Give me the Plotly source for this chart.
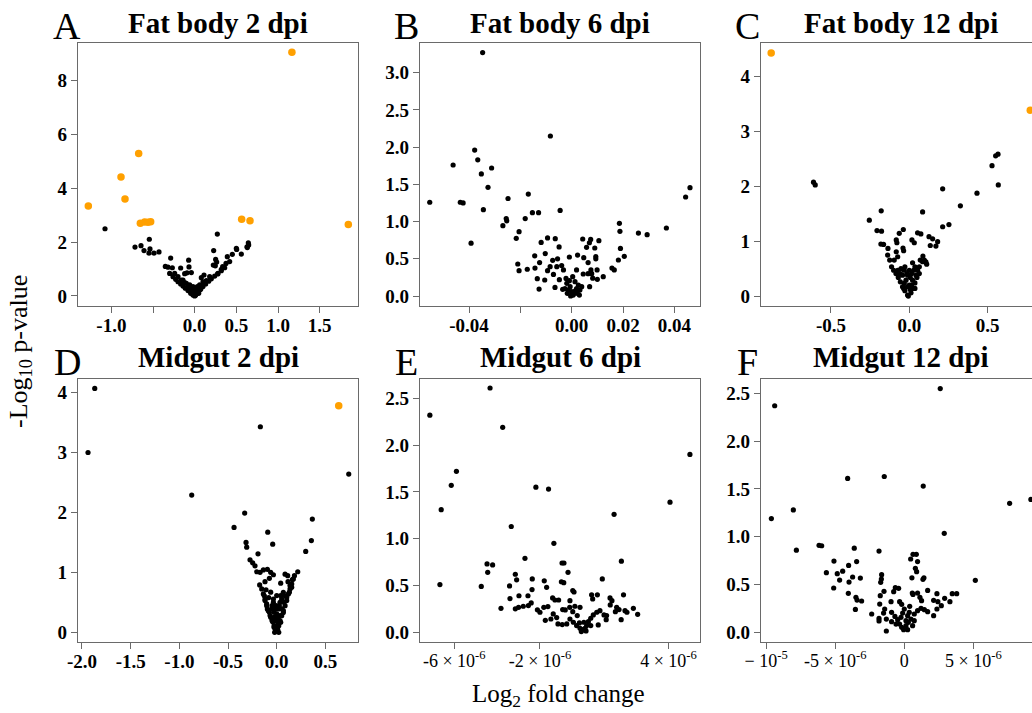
import plotly.graph_objects as go

W, H = 1032, 713
SERIF = "Liberation Serif, Times New Roman, serif"

# ---------------- data ----------------
# A: Fat body 2 dpi
A_black_x = [-1.076, -0.544, -0.716, -0.644, -0.608, -0.536, -0.548, -0.488, -0.428, -0.288,
             -0.352, -0.32, -0.268, -0.168, -0.072, -0.068, -0.092, -0.12, -0.04, -0.3,
             -0.26, -0.228, -0.2, -0.168, -0.14, -0.112, -0.08, -0.048, -0.02, 0.0,
             0.272, 0.228, 0.252, 0.264, 0.276, 0.224, 0.248, 0.336, 0.376, 0.392,
             0.452, 0.5, 0.504, 0.56, 0.632, 0.644, 0.648, 0.628, 0.42, 0.36,
             0.32, 0.112, 0.08, 0.04, 0.072, 0.1, 0.132, 0.168, 0.2, 0.24,
             0.28, 0.32, -0.02, 0.02, -0.04, 0.02, -0.008, 0.04, -0.06, 0.06,
             -0.1, -0.16, 0.1, 0.14, -0.2, -0.24, 0.18, 0.01, -0.01, 0.03, -0.03,
             -0.06, -0.02, 0.032, 0.06, -0.08, -0.12, 0.008, -0.032, 0.048, 0.08, 0.12, -0.14]
A_black_y = [2.50, 2.11, 1.82, 1.87, 1.69, 1.75, 1.59, 1.59, 1.64, 1.41,
             1.10, 1.07, 1.05, 1.04, 1.33, 1.08, 0.86, 0.83, 0.87, 0.84,
             0.72, 0.62, 0.53, 0.45, 0.37, 0.29, 0.20, 0.10, 0.04, 0.0,
             2.30, 1.69, 1.36, 1.26, 0.82, 1.15, 1.12, 1.09, 1.21, 1.46,
             1.55, 1.77, 1.73, 1.56, 1.80, 1.98, 1.90, 1.83, 1.28, 1.05,
             0.99, 0.78, 0.68, 0.12, 0.25, 0.35, 0.45, 0.55, 0.64, 0.74,
             0.84, 0.94, 0.10, 0.074, 0.16, 0.22, 0.285, 0.285, 0.285, 0.41,
             0.47, 0.595, 0.53, 0.57, 0.72, 0.84, 0.72, 0.03, 0.05, 0.15, 0.2,
             0.41, 0.35, 0.35, 0.22, 0.35, 0.50, 0.124, 0.22, 0.10, 0.35, 0.47, 0.595]
A_orange_x = [1.167, -0.672, -0.884, -0.836, -1.276, -0.652, -0.6, -0.56, -0.528, 0.564, 0.664, 1.844]
A_orange_y = [9.06, 5.30, 4.42, 3.61, 3.35, 2.70, 2.75, 2.74, 2.76, 2.85, 2.80, 2.66]

# B: Fat body 6 dpi
B_black_x = [-0.0347, -0.0083, -0.0378, -0.0366, -0.0462, -0.0312, -0.0352, -0.0326, -0.0553, -0.0434,
             -0.0423, -0.0248, -0.0169, -0.0344, -0.0153, -0.0129, -0.0045, -0.0255, -0.0253, -0.0181,
             -0.0268, -0.0205, -0.0216, -0.0392, -0.0094, -0.0064, -0.0119, -0.0049, -0.0103, -0.0144,
             -0.0125, -0.021, -0.0205, -0.0173, -0.0143, -0.0134, -0.0127, -0.0105, -0.0094, -0.0084,
             -0.0074, -0.0071, -0.0058, -0.0055, -0.0039, -0.0065, -0.0048, -0.0032, -0.0022, -0.0009,
             0.0019, 0.0023, 0.0043, 0.0047, 0.0058, 0.0069, 0.0074, 0.0075, 0.0090, 0.0094,
             0.0094, 0.0106, 0.0064, 0.0045, 0.0064, 0.0078, 0.0082, 0.0099, 0.0100, 0.0123,
             0.0070, 0.0157, 0.0166, 0.0186, 0.0188, 0.0190, 0.0205, 0.0182, 0.0260, 0.0294,
             0.0369, 0.0444, 0.0461,
             -0.0019, -0.0006, 0.0, 0.0006, -0.0013, 0.0019, 0.0026, 0.0013, 0.0032, -0.0026,
             0.0004, -0.0009, 0.0009, 0.0022, -0.0004, 0.0039, -0.0035, -0.0017, 0.0014, 0.0030]
B_black_y = [3.27, 2.15, 1.96, 1.83, 1.76, 1.72, 1.64, 1.46, 1.26, 1.26,
             1.25, 1.31, 1.37, 1.16, 1.12, 1.12, 1.15, 1.04, 1.01, 1.04,
             0.945, 0.864, 0.775, 0.71, 0.78, 0.77, 0.72, 0.66, 0.57, 0.54,
             0.45, 0.43, 0.34, 0.36, 0.376, 0.233, 0.094, 0.215, 0.34, 0.394,
             0.48, 0.29, 0.394, 0.50, 0.41, 0.116, 0.22, 0.35, 0.237, 0.524,
             0.35, 0.55, 0.766, 0.515, 0.654, 0.716, 0.76, 0.35, 0.645, 0.53,
             0.50, 0.743, 0.45, 0.296, 0.30, 0.30, 0.24, 0.35, 0.224, 0.26,
             0.125, 0.376, 0.35, 0.976, 0.869, 0.64, 0.533, 0.484, 0.846, 0.824,
             0.914, 1.33, 1.455,
             0.17, 0.125, 0.058, 0.013, 0.08, 0.10, 0.148, 0.193, 0.08, 0.10,
             0.26, 0.206, 0.036, 0.036, 0.0, 0.125, 0.09, 0.036, 0.07, 0.013]

# C: Fat body 12 dpi
C_black_x = [-0.611, -0.600, 0.566, 0.551, 0.528, 0.568, 0.213, 0.432, 0.326, 0.085,
             -0.179, -0.255, 0.213, 0.253, -0.206, -0.177, -0.064, -0.038, 0.053, 0.074,
             0.126, 0.149, 0.181, 0.134, 0.17, 0.017, 0.032, -0.083, -0.079, -0.181,
             -0.164, -0.136, -0.040, -0.036, -0.083, -0.138, -0.125, -0.096, -0.074, 0.087,
             0.096, 0.111, 0.106, 0.070, -0.113, -0.1, -0.085, -0.070, -0.057, -0.043,
             -0.028, -0.011, -0.053, -0.028, 0.0, 0.021, 0.036, 0.053, 0.064, 0.049,
             0.036, 0.021, 0.011, -0.021, 0.0, -0.011, 0.015, -0.043, -0.032, 0.006,
             -0.006, 0.021, 0.043,
             -0.032, -0.015, 0.006, 0.028, -0.011, 0.015, -0.036, 0.036, -0.057, 0.064, 0.085, -0.074]
C_black_y = [2.07, 2.02, 2.58, 2.55, 2.37, 2.02, 1.95, 1.87, 1.64, 1.53,
             1.55, 1.38, 1.26, 1.30, 1.19, 1.18, 1.14, 1.21, 1.15, 1.13,
             1.08, 1.04, 0.99, 0.92, 0.91, 1.02, 0.97, 1.02, 0.97, 0.945,
             0.94, 0.867, 0.873, 0.824, 0.806, 0.745, 0.655, 0.655, 0.715, 0.727,
             0.655, 0.58, 0.624, 0.655, 0.533, 0.47, 0.41, 0.34, 0.26, 0.17,
             0.097, 0.018, 0.50, 0.533, 0.47, 0.606, 0.533, 0.47, 0.41, 0.34,
             0.24, 0.14, 0.06, 0.29, 0.2, 0.38, 0.41, 0.38, 0.23, 0.12,
             0.0, 0.29, 0.38,
             0.47, 0.41, 0.34, 0.47, 0.17, 0.2, 0.14, 0.14, 0.41, 0.533, 0.624, 0.47]
C_orange_x = [-0.881, 0.772]
C_orange_y = [4.42, 3.38]

# D: Midgut 2 dpi
D_black_x = [-1.869, -1.938, -0.168, 0.740, -0.873, -0.329, -0.438, 0.366, -0.092, 0.356,
             -0.315, -0.308, -0.041, 0.298, -0.192, -0.274, -0.247, -0.223, -0.205, -0.171,
             -0.137, -0.096, -0.062, -0.034, -0.175, -0.120, -0.075, -0.110, -0.127, -0.120,
             -0.103, -0.086, -0.068, -0.048, -0.027, -0.007, 0.086, 0.113, 0.182, 0.216,
             0.161, 0.041, 0.116, 0.154, 0.130, 0.103, 0.075, 0.055, 0.034, 0.017,
             0.007, 0.086, 0.051, -0.062, -0.034, -0.017, 0.0, 0.027, -0.051, -0.027,
             0.041, 0.0, -0.021, 0.021, 0.068, -0.082, 0.137,
             -0.154, -0.137, -0.12, -0.103, -0.096, -0.075, -0.062, -0.041, -0.027, -0.014,
             0.171, 0.154, 0.137, 0.12, 0.103, 0.086, 0.068, 0.051, 0.034, 0.021,
             0.01, -0.034, -0.007, 0.017, 0.041, 0.068, 0.0, -0.027, 0.017, -0.007,
             -0.048, 0.034]
D_black_y = [4.07, 3.00, 3.43, 2.64, 2.29, 1.99, 1.75, 1.89, 1.67, 1.53,
             1.50, 1.42, 1.47, 1.35, 1.31, 1.21, 1.16, 1.11, 1.01, 1.00,
             1.04, 1.05, 1.00, 0.96, 0.79, 0.845, 0.90, 0.71, 0.61, 0.53,
             0.445, 0.36, 0.28, 0.195, 0.11, 0.028, 0.97, 0.945, 0.945, 1.01,
             0.88, 0.82, 0.845, 0.75, 0.67, 0.58, 0.50, 0.39, 0.28, 0.167,
             0.056, 0.61, 0.556, 0.67, 0.556, 0.39, 0.306, 0.445, 0.39, 0.25,
             0.167, 0.11, 0.0, 0.0, 0.33, 0.58, 0.78,
             0.723, 0.64, 0.556, 0.473, 0.389, 0.334, 0.25, 0.178, 0.083, 0.045,
             0.89, 0.807, 0.723, 0.64, 0.529, 0.445, 0.362, 0.278, 0.195, 0.111,
             0.045, 0.50, 0.445, 0.389, 0.612, 0.668, 0.612, 0.334, 0.25, 0.195,
             0.445, 0.50]
D_orange_x = [0.637]
D_orange_y = [3.78]

# E: Midgut 6 dpi (x in units of 1e-6)
E_black_x_e6 = [-4.33, -7.14, -3.74, 5.0, -5.90, -6.14, -2.19, -1.60, -6.61, 4.07,
                1.46, -3.34, -1.35, -2.70, 1.80, -4.47, -4.21, -4.44, -6.67, -4.74,
                -3.42, -3.15, -3.09, -2.36, -1.80, -1.69, -0.97, -0.88, -0.69, -1.0,
                -0.89, 0.91, 1.90, -0.47, -0.41, -2.37, -3.40, -2.98, -2.56, -3.15,
                -3.0, -2.78, -2.54, -2.41, -3.82, -2.12, -2.0, -1.82, -1.63, -1.41,
                -1.30, -1.13, -1.38, -1.22, -1.75, -1.49, -0.94, -0.82, -0.60, -0.61,
                -0.47, -0.37, -0.26, -0.13, -1.16, -0.96, -0.75, -0.60, -0.44, -0.29,
                -0.13, 0.0, 0.10, 0.18, 0.26, 0.37, 0.49, 0.65, 0.80, 0.99,
                1.09, 0.72, 0.37, 0.41, 0.46, 0.68, 1.27, 1.36, 1.28, 1.58,
                1.52, 1.69, 1.79, 1.97, 2.06, 2.36, 2.56, 1.11, 0.05, -0.16,
                0.15, -0.07]
E_black_y = [2.61, 2.32, 2.19, 1.90, 1.72, 1.57, 1.55, 1.53, 1.31, 1.39,
             1.26, 1.13, 0.95, 0.79, 0.76, 0.73, 0.72, 0.64, 0.51, 0.49,
             0.495, 0.62, 0.56, 0.57, 0.55, 0.48, 0.74, 0.74, 0.64, 0.54,
             0.53, 0.57, 0.40, 0.445, 0.43, 0.456, 0.36, 0.39, 0.39, 0.25,
             0.267, 0.278, 0.285, 0.313, 0.256, 0.24, 0.214, 0.267, 0.274, 0.367,
             0.345, 0.345, 0.196, 0.157, 0.128, 0.142, 0.242, 0.239, 0.338, 0.267,
             0.22, 0.278, 0.178, 0.267, 0.089, 0.082, 0.089, 0.142, 0.107, 0.071,
             0.043, 0.028, 0.043, 0.071, 0.114, 0.15, 0.185, 0.214, 0.231, 0.185,
             0.135, 0.078, 0.071, 0.40, 0.356, 0.40, 0.367, 0.338, 0.292, 0.267,
             0.22, 0.242, 0.135, 0.231, 0.214, 0.256, 0.192, 0.178, 0.107, 0.10,
             0.014, 0.007]

# F: Midgut 12 dpi (x in units of 1e-6)
F_black_x_e6 = [2.60, -9.38, -4.10, -1.45, 1.37, -9.62, -8.03, 7.62, 9.16, 2.89,
                -7.81, -6.17, -5.98, -3.62, -1.83, 0.63, 0.87, 0.46, 0.96, 0.80,
                0.89, 0.55, 1.42, 1.35, 5.14, -5.09, -3.45, -4.03, -4.46, -5.64,
                -4.85, -4.68, -3.74, -3.18, -4.0, -1.64, -1.66, -1.71, -5.11, -4.05,
                -3.50, -3.42, -3.09, -3.54, -2.36, -1.83, -1.83, -1.30, -1.47, -0.77,
                -0.65, -0.41, -1.74, -1.78, -1.42, -1.50, -1.30, -0.96, -0.34, -0.19,
                -0.92, -0.68, -0.48, -0.34, -0.19, -0.05, 0.12, 0.29, 0.48, 0.72,
                0.96, 1.21, 1.45, 1.69, 0.58, 0.63, 0.96, 1.13, 1.25, 1.69,
                2.12, 2.36, 2.43, 2.68, 2.92, 3.30, 3.47, 3.79, 2.12, 2.36,
                -0.12, 0.24, 0.12, -0.24, 0.0, 0.36, 0.72, 0.60, 0.24, -0.60,
                -0.92, 0.39]
F_black_y = [2.55, 2.37, 1.61, 1.63, 1.53, 1.19, 1.28, 1.35, 1.39, 1.036,
             0.86, 0.91, 0.906, 0.88, 0.85, 0.816, 0.816, 0.767, 0.74, 0.67,
             0.635, 0.57, 0.57, 0.555, 0.544, 0.746, 0.74, 0.70, 0.64, 0.624,
             0.614, 0.547, 0.579, 0.568, 0.526, 0.603, 0.558, 0.523, 0.464, 0.408,
             0.366, 0.338, 0.328, 0.24, 0.192, 0.146, 0.119, 0.014, 0.429, 0.425,
             0.467, 0.46, 0.384, 0.296, 0.244, 0.202, 0.139, 0.321, 0.321, 0.293,
             0.209, 0.167, 0.132, 0.087, 0.052, 0.028, 0.07, 0.105, 0.139, 0.192,
             0.227, 0.251, 0.237, 0.216, 0.411, 0.397, 0.411, 0.366, 0.331, 0.439,
             0.335, 0.404, 0.321, 0.279, 0.356, 0.321, 0.404, 0.404, 0.174, 0.244,
             0.202, 0.174, 0.122, 0.157, 0.244, 0.209, 0.122, 0.07, 0.028, 0.087,
             0.112, 0.272]

titles = ["Fat body 2 dpi", "Fat body 6 dpi", "Fat body 12 dpi",
          "Midgut 2 dpi", "Midgut 6 dpi", "Midgut 12 dpi"]
letters = ["A", "B", "C", "D", "E", "F"]

# tick definitions
A_xt = [-1.0, -0.5, 0.0, 0.5, 1.0, 1.5]; A_xl = ["-1.0", "", "0.0", "0.5", "1.0", "1.5"]
A_yt = [0, 2, 4, 6, 8]; A_yl = ["0", "2", "4", "6", "8"]
B_xt = [-0.04, -0.02, 0.0, 0.02, 0.04]; B_xl = ["-0.04", "", "0.00", "0.02", "0.04"]
B_yt = [0, 0.5, 1.0, 1.5, 2.0, 2.5, 3.0]; B_yl = ["0.0", "0.5", "1.0", "1.5", "2.0", "2.5", "3.0"]
C_xt = [-0.5, 0.0, 0.5]; C_xl = ["-0.5", "0.0", "0.5"]
C_yt = [0, 1, 2, 3, 4]; C_yl = ["0", "1", "2", "3", "4"]
D_xt = [-2.0, -1.5, -1.0, -0.5, 0.0, 0.5]; D_xl = ["-2.0", "-1.5", "-1.0", "-0.5", "0.0", "0.5"]
D_yt = [0, 1, 2, 3, 4]; D_yl = ["0", "1", "2", "3", "4"]
E_xt = [-6e-6, -2e-6, 4e-6]
E_xl = ["-6 × 10<sup>-6</sup>", "-2 × 10<sup>-6</sup>", "4 × 10<sup>-6</sup>"]
E_yt = [0, 0.5, 1.0, 1.5, 2.0, 2.5]; E_yl = ["0.0", "0.5", "1.0", "1.5", "2.0", "2.5"]
F_xt = [-1e-5, -5e-6, 0.0, 5e-6]
F_xl = ["− 10<sup>-5</sup>", "-5 × 10<sup>-6</sup>", "0", "5 × 10<sup>-6</sup>"]
F_yt = [0, 0.5, 1.0, 1.5, 2.0, 2.5]; F_yl = ["0.0", "0.5", "1.0", "1.5", "2.0", "2.5"]

# ---------------- layout geometry (pixels) ----------------
col_px = [(78, 358), (420, 700), (761, 1032)]
title_cx = [218, 560, 901]
row_px = [(43, 306), (379, 642)]

xranges = [[-1.40, 1.96], [-0.0591, 0.0500], [-0.946, 0.783],
           [-2.041, 0.835], [-7.60e-6, 5.47e-6], [-10.37e-6, 9.24e-6]]
yranges = [[-0.372, 9.405], [-0.134, 3.399], [-0.18, 4.6],
           [-0.162, 4.227], [-0.104, 2.706], [-0.101, 2.65]]

panels = [
    (A_black_x, A_black_y, A_orange_x, A_orange_y, A_xt, A_xl, A_yt, A_yl),
    (B_black_x, B_black_y, [], [], B_xt, B_xl, B_yt, B_yl),
    (C_black_x, C_black_y, C_orange_x, C_orange_y, C_xt, C_xl, C_yt, C_yl),
    (D_black_x, D_black_y, D_orange_x, D_orange_y, D_xt, D_xl, D_yt, D_yl),
    ([v * 1e-6 for v in E_black_x_e6], E_black_y, [], [], E_xt, E_xl, E_yt, E_yl),
    ([v * 1e-6 for v in F_black_x_e6], F_black_y, [], [], F_xt, F_xl, F_yt, F_yl),
]

fig = go.Figure()
layout = dict(
    width=W, height=H, margin=dict(l=0, r=0, t=0, b=0, autoexpand=False),
    paper_bgcolor="white", plot_bgcolor="white", showlegend=False,
    font=dict(family=SERIF, color="black"),
)
annotations = []
LINE = "#6a6a6a"

for i, (bx, by, ox, oy, xt, xl, yt, yl) in enumerate(panels):
    r, c = divmod(i, 3)
    n = i + 1
    xa = "x" if n == 1 else f"x{n}"
    ya = "y" if n == 1 else f"y{n}"
    fig.add_trace(go.Scatter(x=bx, y=by, mode="markers", xaxis=xa, yaxis=ya,
                             marker=dict(color="black", size=5.2, line=dict(width=0))))
    if ox:
        fig.add_trace(go.Scatter(x=ox, y=oy, mode="markers", xaxis=xa, yaxis=ya,
                                 marker=dict(color="#FFA000", size=7.5, line=dict(width=0))))
    x0, x1 = col_px[c]
    y0, y1 = row_px[r]
    sci = i in (4, 5)
    layout["xaxis" if n == 1 else f"xaxis{n}"] = dict(
        domain=[x0 / W, x1 / W], range=xranges[i], anchor=ya, automargin=False,
        showline=True, linecolor=LINE, linewidth=1.3, mirror=True,
        ticks="outside", ticklen=6, tickwidth=1.2, tickcolor=LINE,
        tickvals=xt, ticktext=xl, showgrid=False, zeroline=False,
        ticklabelstandoff=-4,
        tickfont=dict(family=SERIF, size=18 if sci else 19, color="black",
                      weight="normal" if sci else "bold"),
    )
    layout["yaxis" if n == 1 else f"yaxis{n}"] = dict(
        domain=[1 - y1 / H, 1 - y0 / H], range=yranges[i], anchor=xa, automargin=False,
        showline=True, linecolor=LINE, linewidth=1.3, mirror=(c != 2),
        ticks="outside", ticklen=6, tickwidth=1.2, tickcolor=LINE,
        tickvals=yt, ticktext=yl, showgrid=False, zeroline=False,
        tickfont=dict(family=SERIF, size=19, color="black", weight="bold"),
    )
    # panel title
    title_y = 23 if r == 0 else 357
    annotations.append(dict(text=f"<b>{titles[i]}</b>", x=title_cx[c] / W,
                            y=1 - title_y / H, xref="paper", yref="paper",
                            xanchor="center", yanchor="middle", showarrow=False,
                            font=dict(family=SERIF, size=29, color="black")))
    # panel letter
    letter_x = [67, 406, 747][c]
    letter_y = 26 if r == 0 else 362
    annotations.append(dict(text=letters[i], x=letter_x / W, y=1 - letter_y / H,
                            xref="paper", yref="paper", xanchor="center", yanchor="middle",
                            showarrow=False, font=dict(family=SERIF, size=38, color="black")))

annotations.append(dict(text="-Log<sub>10</sub> p-value", x=20 / W, y=1 - 352 / H,
                        xref="paper", yref="paper", xanchor="center", yanchor="middle",
                        textangle=-90, showarrow=False,
                        font=dict(family=SERIF, size=26, color="black")))
annotations.append(dict(text="Log<sub>2</sub> fold change", x=558 / W, y=1 - 695 / H,
                        xref="paper", yref="paper", xanchor="center", yanchor="middle",
                        showarrow=False, font=dict(family=SERIF, size=25, color="black")))
layout["annotations"] = annotations
fig.update_layout(**layout)
fig.write_html("out.html")
